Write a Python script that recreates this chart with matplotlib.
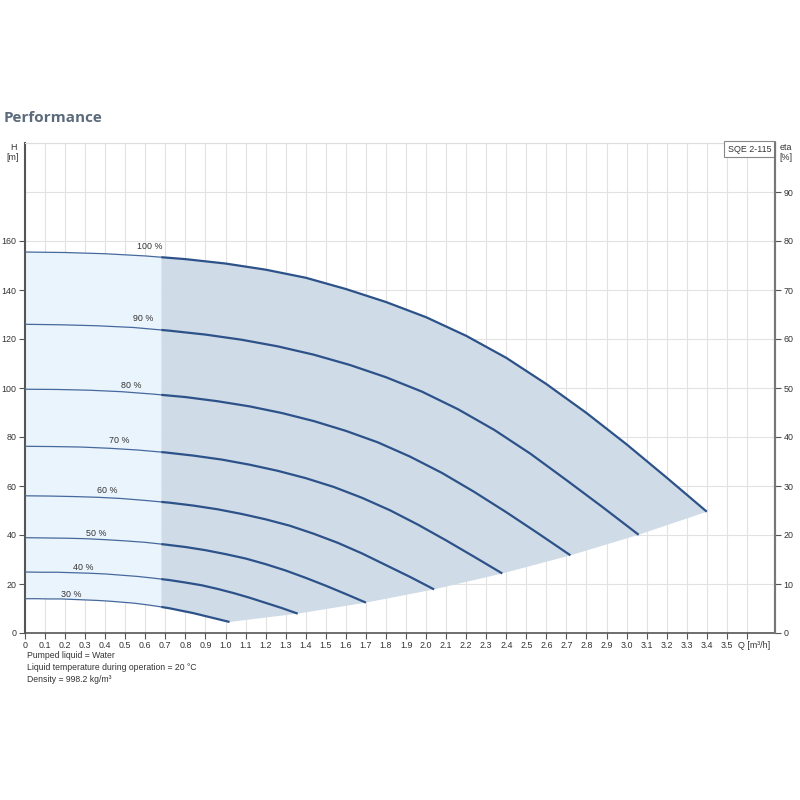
import numpy as np
import matplotlib
matplotlib.use("Agg")
import matplotlib.pyplot as plt
import matplotlib.transforms as mtransforms

plt.rcParams["font.family"] = ["Liberation Sans", "DejaVu Sans"]

# Courbes H(Q), pour chaque vitesse
speeds = ["100 %", "90 %", "80 %", "70 %", "60 %", "50 %", "40 %", "30 %"]

q100 = [0, 0.2, 0.4, 0.6, 0.8, 1.0, 1.2, 1.4, 1.6, 1.8, 2.0, 2.2, 2.4, 2.6, 2.8, 3.0, 3.2, 3.4]
h100 = [155.5, 155.3, 154.8, 153.9, 152.6, 150.8, 148.3, 145.0, 140.4, 135.1, 128.9, 121.3,
        112.3, 101.6, 89.8, 77.0, 63.4, 49.5]
q90 = [0, 0.18, 0.36, 0.54, 0.72, 0.9, 1.08, 1.26, 1.44, 1.62, 1.8, 1.98, 2.16, 2.34, 2.52,
       2.7, 2.88, 3.06]
h90 = [126.0, 125.8, 125.4, 124.7, 123.4, 121.8, 119.7, 117.0, 113.6, 109.4, 104.4, 98.5,
       91.3, 82.9, 73.2, 62.4, 51.4, 40.1]
q80 = [0, 0.16, 0.32, 0.48, 0.64, 0.8, 0.96, 1.12, 1.28, 1.44, 1.6, 1.76, 1.92, 2.08, 2.24,
       2.4, 2.56, 2.72]
h80 = [99.5, 99.4, 99.1, 98.5, 97.5, 96.3, 94.6, 92.5, 89.8, 86.5, 82.5, 77.8, 72.0, 65.3,
       57.6, 49.3, 40.6, 31.7]
q70 = [0, 0.14, 0.28, 0.42, 0.56, 0.7, 0.84, 0.98, 1.12, 1.26, 1.4, 1.54, 1.68, 1.82, 1.96,
       2.1, 2.24, 2.38]
h70 = [76.2, 76.1, 75.9, 75.4, 74.7, 73.7, 72.4, 70.8, 68.7, 66.2, 63.2, 59.6, 55.2, 50.1,
       44.2, 37.8, 31.1, 24.3]
q60 = [0, 0.12, 0.24, 0.36, 0.48, 0.6, 0.72, 0.84, 0.96, 1.08, 1.2, 1.32, 1.44, 1.56, 1.68,
       1.8, 1.92, 2.04]
h60 = [56.0, 55.9, 55.7, 55.4, 54.9, 54.1, 53.2, 52.0, 50.5, 48.6, 46.4, 43.8, 40.5, 36.8,
       32.5, 27.7, 22.9, 17.8]
q50 = [0, 0.1, 0.2, 0.3, 0.4, 0.5, 0.6, 0.7, 0.8, 0.9, 1.0, 1.1, 1.2, 1.3, 1.4, 1.5, 1.6, 1.7]
h50 = [38.9, 38.8, 38.7, 38.5, 38.1, 37.6, 37.0, 36.1, 35.1, 33.8, 32.2, 30.4, 28.1, 25.5,
       22.5, 19.3, 15.9, 12.4]
q40 = [0, 0.08, 0.16, 0.24, 0.32, 0.4, 0.48, 0.56, 0.64, 0.72, 0.8, 0.88, 0.96, 1.04, 1.12,
       1.2, 1.28, 1.36]
h40 = [24.9, 24.8, 24.8, 24.6, 24.4, 24.1, 23.6, 23.1, 22.4, 21.6, 20.6, 19.5, 18.0, 16.3,
       14.4, 12.3, 10.2, 7.9]
q30 = [0, 0.06, 0.12, 0.18, 0.24, 0.3, 0.36, 0.42, 0.48, 0.54, 0.6, 0.66, 0.72, 0.78, 0.84,
       0.9, 0.96, 1.02]
h30 = [14.0, 14.0, 13.9, 13.9, 13.7, 13.5, 13.3, 13.0, 12.6, 12.2, 11.6, 10.9, 10.1, 9.1,
       8.1, 6.9, 5.7, 4.5]

curves_q = [q100, q90, q80, q70, q60, q50, q40, q30]
curves_h = [h100, h90, h80, h70, h60, h50, h40, h30]

# position des étiquettes (Q, H)
label_q = [0.623, 0.589, 0.529, 0.469, 0.409, 0.354, 0.289, 0.229]
label_h = [157.6, 128.2, 101.2, 78.4, 58.0, 40.8, 26.9, 15.9]

q_min = 0.68   # limite de la zone claire

x_ticks = [round(0.1 * k, 1) for k in range(37)]
x_labels = ["0"] + ["%.1f" % v for v in x_ticks[1:-1]] + ["Q [m³/h]"]
h_ticks = [0, 20, 40, 60, 80, 100, 120, 140, 160]
h_grid_extra = [180, 200]
eta_ticks = [0, 10, 20, 30, 40, 50, 60, 70, 80, 90]

notes = ["Pumped liquid = Water",
         "Liquid temperature during operation = 20 °C",
         "Density = 998.2 kg/m³"]

dark = "#2c5289"
txt = "#333333"
fs = 6.4

fig = plt.figure(figsize=(8, 8), dpi=100)
ax = fig.add_axes([0.03125, 0.20875, 0.9375, 0.6125])
ax.set_xlim(0, 3.74)
ax.set_ylim(0, 200)

# Zones colorées
qa = np.array(q100)
ha = np.array(h100)
qb = np.array(q30)
hb = np.array(h30)
h100_cut = np.interp(q_min, qa, ha)
h30_cut = np.interp(q_min, qb, hb)

# zone claire (0 -> q_min)
m1 = qa < q_min
m2 = qb < q_min
px = list(qa[m1]) + [q_min, q_min] + list(qb[m2][::-1])
py = list(ha[m1]) + [h100_cut, h30_cut] + list(hb[m2][::-1])
ax.fill(px, py, color="#eaf4fd", zorder=1, lw=0)

# zone foncée (q_min -> fin des courbes)
ends_q = [c[-1] for c in curves_q]
ends_h = [c[-1] for c in curves_h]
px = [q_min] + list(qa[qa > q_min]) + ends_q[1:] + list(qb[qb > q_min][::-1][1:]) + [q_min]
py = [h100_cut] + list(ha[qa > q_min]) + ends_h[1:] + list(hb[qb > q_min][::-1][1:]) + [h30_cut]
ax.fill(px, py, color="#cfdbe7", zorder=1, lw=0)

# Courbes
for q, h, lab, lq, lh in zip(curves_q, curves_h, speeds, label_q, label_h):
    q = np.array(q)
    h = np.array(h)
    hc = np.interp(q_min, q, h)
    ax.plot(list(q[q < q_min]) + [q_min], list(h[q < q_min]) + [hc],
            color="#46699d", lw=0.9, zorder=3)
    ax.plot([q_min] + list(q[q > q_min]), [hc] + list(h[q > q_min]),
            color=dark, lw=1.6, zorder=3, solid_capstyle="butt", solid_joinstyle="round")
    ax.text(lq, lh, lab, fontsize=fs, color=txt, ha="center", va="center", zorder=4)

# Grille et graduations
ax.set_xticks(x_ticks)
ax.set_xticklabels(x_labels)
ax.set_yticks(h_ticks)
ax.set_yticks(h_grid_extra, minor=True)
ax.grid(True, which="both", color="#e2e2e2", lw=0.8, zorder=0)
ax.set_axisbelow(True)
ax.tick_params(axis="both", labelsize=fs, colors="#555555", labelcolor=txt,
               length=4, width=0.8, pad=2)
ax.tick_params(axis="y", which="minor", length=0)

# étiquette "Q [m³/h]" décalée vers la gauche
qlab = ax.get_xticklabels()[-1]
qlab.set_ha("left")
qlab.set_transform(qlab.get_transform() +
                   mtransforms.ScaledTranslation(-9 / 100, 0, fig.dpi_scale_trans))

ax.spines["left"].set_color("#555555")
ax.spines["left"].set_linewidth(1.5)
ax.spines["bottom"].set_color("#555555")
ax.spines["bottom"].set_linewidth(1.2)
ax.spines["top"].set_color("#dddddd")
ax.spines["right"].set_color("#777777")
ax.spines["right"].set_linewidth(1.5)

ax2 = ax.twinx()
ax2.set_ylim(0, 100)
ax2.set_yticks(eta_ticks)
ax2.tick_params(axis="y", labelsize=fs, colors="#555555", labelcolor=txt,
                length=4, width=0.8, pad=2)
for s in ["left", "top", "bottom"]:
    ax2.spines[s].set_visible(False)
ax2.spines["right"].set_color("#777777")
ax2.spines["right"].set_linewidth(1.5)

# Titres d'axes
fig.text(13 / 800, 1 - 148 / 800, "H", fontsize=fs, color=txt, ha="center", va="center")
fig.text(13 / 800, 1 - 158 / 800, "[m]", fontsize=fs, color=txt, ha="center", va="center")
fig.text(786 / 800, 1 - 148 / 800, "eta", fontsize=fs, color=txt, ha="center", va="center")
fig.text(786 / 800, 1 - 158 / 800, "[%]", fontsize=fs, color=txt, ha="center", va="center")

# Nom de la pompe
ax.text(0.995, 0.996, "SQE 2-115", transform=ax.transAxes, fontsize=fs, color=txt,
        ha="right", va="top", zorder=5,
        bbox={"facecolor": "white", "edgecolor": "#888888", "lw": 0.8, "pad": 2.5})

fig.text(4 / 800, 1 - 118 / 800, "Performance", fontsize=11, fontweight="bold",
         color="#5b6b7b", family="Open Sans", ha="left", va="center")

for k, line in enumerate(notes):
    fig.text(27 / 800, 1 - (656 + 11.5 * k) / 800, line, fontsize=6.2, color=txt,
             ha="left", va="center")

fig.savefig("out.png", dpi=100)
